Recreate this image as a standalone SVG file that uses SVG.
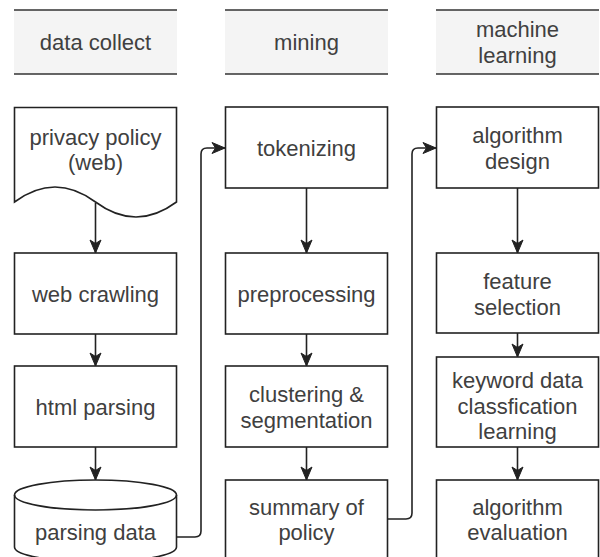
<svg xmlns="http://www.w3.org/2000/svg" width="600" height="557" viewBox="0 0 600 557">
  <style>
    .hdr { fill: #f4f4f4; stroke: none; }
    .hline { stroke: #333; stroke-width: 1.6; fill: none; }
    .box { fill: #fff; stroke: #222; stroke-width: 1.6; }
    .edge { fill: none; stroke: #222; stroke-width: 1.6; }
    text { font-family: "Liberation Sans", Arial, sans-serif; font-size: 22px; fill: #404040; text-anchor: middle; }
  </style>
  <defs>
    <marker id="arrow" markerUnits="userSpaceOnUse" markerWidth="16" markerHeight="14" refX="14" refY="7" orient="auto">
      <path d="M1,1.5 L14,7 L1,12.5 L4.5,7 Z" fill="#222" stroke="#222" stroke-width="1"/>
    </marker>
  </defs>

  <!-- lane headers -->
  <g id="header-data-collect">
    <rect class="hdr" x="14" y="10" width="163" height="64"/>
    <line class="hline" x1="14" y1="10" x2="177" y2="10"/>
    <line class="hline" x1="14" y1="74" x2="177" y2="74"/>
    <text x="95.5" y="50">data collect</text>
  </g>
  <g id="header-mining">
    <rect class="hdr" x="225" y="10" width="163" height="64"/>
    <line class="hline" x1="225" y1="10" x2="388" y2="10"/>
    <line class="hline" x1="225" y1="74" x2="388" y2="74"/>
    <text x="306.5" y="50">mining</text>
  </g>
  <g id="header-machine-learning">
    <rect class="hdr" x="436" y="10" width="163" height="64"/>
    <line class="hline" x1="436" y1="10" x2="599" y2="10"/>
    <line class="hline" x1="436" y1="74" x2="599" y2="74"/>
    <text x="517.5" y="37">machine</text>
    <text x="517.5" y="63">learning</text>
  </g>

  <!-- data collect column -->
  <g id="privacy-policy">
    <path class="box" d="M14.5,107.5 H176.5 V202 Q136,232 95.5,202 Q55,172 14.5,202 Z"/>
    <text x="95.5" y="145">privacy policy</text>
    <text x="95.5" y="170">(web)</text>
  </g>
  <g id="web-crawling">
    <rect class="box" x="14.5" y="253" width="162" height="81"/>
    <text x="95.5" y="302">web crawling</text>
  </g>
  <g id="html-parsing">
    <rect class="box" x="14.5" y="366" width="162" height="81"/>
    <text x="95.5" y="415">html parsing</text>
  </g>
  <g id="parsing-data">
    <path class="box" d="M14.5,495 A81,15 0 0 1 176.5,495 V547 A81,15 0 0 1 14.5,547 Z"/>
    <path class="edge" d="M14.5,495 A81,15 0 0 0 176.5,495"/>
    <text x="95.5" y="540">parsing data</text>
  </g>

  <!-- mining column -->
  <g id="tokenizing">
    <rect class="box" x="225.5" y="107" width="162" height="81"/>
    <text x="306.5" y="156">tokenizing</text>
  </g>
  <g id="preprocessing">
    <rect class="box" x="225.5" y="253" width="162" height="81"/>
    <text x="306.5" y="302">preprocessing</text>
  </g>
  <g id="clustering">
    <rect class="box" x="225.5" y="366" width="162" height="81"/>
    <text x="306.5" y="402">clustering &amp;</text>
    <text x="306.5" y="428">segmentation</text>
  </g>
  <g id="summary">
    <rect class="box" x="225.5" y="480" width="162" height="80"/>
    <text x="306.5" y="515">summary of</text>
    <text x="306.5" y="540">policy</text>
  </g>

  <!-- machine learning column -->
  <g id="algorithm-design">
    <rect class="box" x="436.5" y="107" width="162" height="81"/>
    <text x="517.5" y="143">algorithm</text>
    <text x="517.5" y="169">design</text>
  </g>
  <g id="feature-selection">
    <rect class="box" x="436.5" y="253" width="162" height="80"/>
    <text x="517.5" y="289">feature</text>
    <text x="517.5" y="315">selection</text>
  </g>
  <g id="keyword-classification">
    <rect class="box" x="436.5" y="357" width="162" height="90"/>
    <text x="517.5" y="388">keyword data</text>
    <text x="517.5" y="414">classfication</text>
    <text x="517.5" y="439">learning</text>
  </g>
  <g id="algorithm-evaluation">
    <rect class="box" x="436.5" y="480" width="162" height="80"/>
    <text x="517.5" y="515">algorithm</text>
    <text x="517.5" y="540">evaluation</text>
  </g>

  <!-- connectors -->
  <g id="connectors">
    <path class="edge" marker-end="url(#arrow)" d="M95.5,203 V253"/>
    <path class="edge" marker-end="url(#arrow)" d="M95.5,334 V366"/>
    <path class="edge" marker-end="url(#arrow)" d="M95.5,447 V480"/>
    <path class="edge" marker-end="url(#arrow)" d="M176.5,537 H195 Q201,537 201,531 V154 Q201,148 207,148 H225"/>

    <path class="edge" marker-end="url(#arrow)" d="M306.5,188 V253"/>
    <path class="edge" marker-end="url(#arrow)" d="M306.5,334 V366"/>
    <path class="edge" marker-end="url(#arrow)" d="M306.5,447 V480"/>
    <path class="edge" marker-end="url(#arrow)" d="M387.5,519 H406 Q412,519 412,513 V154 Q412,148 418,148 H436"/>

    <path class="edge" marker-end="url(#arrow)" d="M517.5,188 V253"/>
    <path class="edge" marker-end="url(#arrow)" d="M517.5,333 V357"/>
    <path class="edge" marker-end="url(#arrow)" d="M517.5,447 V480"/>
  </g>
</svg>
